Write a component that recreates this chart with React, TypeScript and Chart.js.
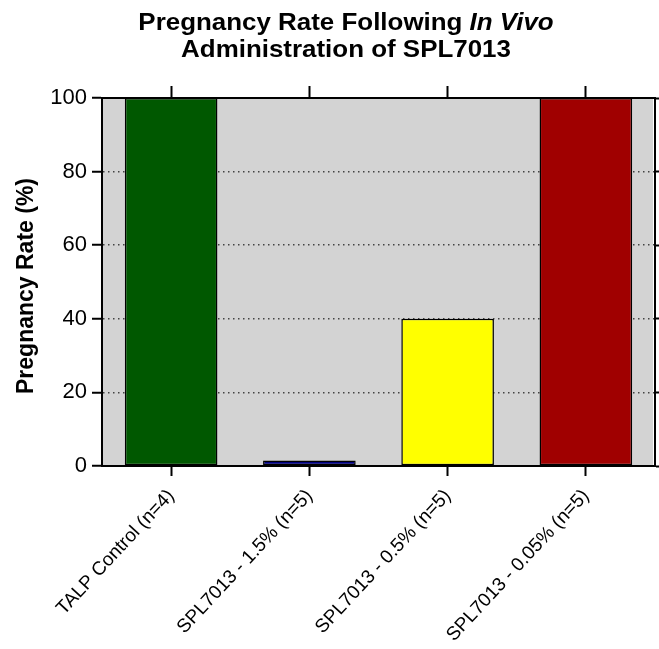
import React, { useEffect, useRef } from "react";
import { Chart, registerables } from "chart.js";

Chart.register(...registerables);

const categories = [
  "TALP Control (n=4)",
  "SPL7013 - 1.5% (n=5)",
  "SPL7013 - 0.5% (n=5)",
  "SPL7013 - 0.05% (n=5)",
];
const pregnancyRate = [100, 1.5, 40, 100];
const barColors = ["#005800", "#000080", "#FFFF00", "#A00000"];
const titleLine1 = "Pregnancy Rate Following ";
const titleItalic = "In Vivo";
const titleLine2 = "Administration of SPL7013";
const yAxisTitle = "Pregnancy Rate (%)";

const FONT = "'Liberation Sans', Arial, sans-serif";

const decorPlugin = {
  id: "decor",
  beforeDraw(chart: any) {
    const { ctx, chartArea } = chart;
    ctx.save();
    ctx.fillStyle = "#D3D3D3";
    ctx.fillRect(chartArea.left, chartArea.top, chartArea.right - chartArea.left - 2, chartArea.bottom - chartArea.top);
    ctx.restore();
  },
  afterDraw(chart: any) {
    const { ctx } = chart;
    ctx.save();
    ctx.fillStyle = "#000";
    ctx.textBaseline = "alphabetic";
    const cx = 346;
    const sx = 1.08;
    ctx.font = `bold 24px ${FONT}`;
    const w1 = ctx.measureText(titleLine1).width;
    ctx.font = `italic bold 24px ${FONT}`;
    const w2 = ctx.measureText(titleItalic).width;
    ctx.save();
    ctx.translate(cx, 0);
    ctx.scale(sx, 1);
    const start = -(w1 + w2) / 2;
    ctx.textAlign = "left";
    ctx.font = `bold 24px ${FONT}`;
    ctx.fillText(titleLine1, start, 30);
    ctx.font = `italic bold 24px ${FONT}`;
    ctx.fillText(titleItalic, start + w1, 30);
    ctx.font = `bold 24px ${FONT}`;
    ctx.textAlign = "center";
    ctx.fillText(titleLine2, 0, 57);
    ctx.restore();
    ctx.save();
    ctx.translate(33, 286);
    ctx.rotate(-Math.PI / 2);
    ctx.font = `bold 23px ${FONT}`;
    ctx.textAlign = "center";
    ctx.fillText(yAxisTitle, 0, 0);
    ctx.restore();
    ctx.restore();
  },
};

export default function App() {
  const ref = useRef<HTMLCanvasElement>(null);
  useEffect(() => {
    if (!ref.current) return;
    Chart.defaults.font.family = FONT;
    const chart = new Chart(ref.current, {
      type: "bar",
      data: {
        labels: categories,
        datasets: [
          {
            data: pregnancyRate,
            backgroundColor: barColors,
            borderColor: "#000",
            borderWidth: 1.5,
            borderSkipped: false,
            categoryPercentage: 1,
            barPercentage: 0.67,
          },
        ],
      },
      plugins: [decorPlugin],
      options: {
        responsive: false,
        animation: false,
        events: [],
        layout: { padding: 0 },
        plugins: { legend: { display: false }, tooltip: { enabled: false }, title: { display: false } },
        scales: {
          x: {
            type: "category",
            position: "bottom",
            offset: true,
            grid: { drawOnChartArea: false, offset: false, tickLength: 10, tickColor: "#000", tickWidth: 2 },
            border: { color: "#000", width: 2 },
            ticks: {
              autoSkip: false,
              minRotation: 47,
              maxRotation: 47,
              padding: 9,
              color: "#000",
              font: { size: 19, family: FONT },
            },
            afterFit: (s: any) => {
              s.height = 183;
            },
          },
          x2: {
            type: "category",
            position: "top",
            labels: categories,
            offset: true,
            grid: { drawOnChartArea: false, offset: false, tickLength: 12, tickColor: "#000", tickWidth: 2 },
            border: { color: "#000", width: 2 },
            ticks: { display: false },
            afterFit: (s: any) => {
              s.height = 98;
            },
          },
          y: {
            type: "linear",
            position: "left",
            min: 0,
            max: 100,
            grid: {
              color: (c: any) => (c.tick && (c.tick.value === 0 || c.tick.value === 100) ? "rgba(0,0,0,0)" : "#444"),
              lineWidth: 1.5,
              tickLength: 10,
              tickColor: "#000",
              tickWidth: 2,
              tickBorderDash: [],
            },
            border: { color: "#000", width: 2, dash: [1.5, 3.5] },
            ticks: { stepSize: 20, padding: 5, color: "#000", font: { size: 22, family: FONT } },
            afterFit: (s: any) => {
              s.width = 102;
            },
          },
          y2: {
            type: "linear",
            position: "right",
            min: 0,
            max: 100,
            grid: { drawOnChartArea: false, tickLength: 4, tickColor: "#000", tickWidth: 2 },
            border: { color: "#000", width: 2 },
            ticks: { display: false, stepSize: 20 },
            afterFit: (s: any) => {
              s.width = 4;
            },
          },
        },
      },
    } as any);
    return () => chart.destroy();
  }, []);
  return (
    <div style={{ position: "fixed", left: 0, top: 0, width: 659, height: 649, background: "#fff" }}>
      <canvas ref={ref} width={659} height={649} style={{ display: "block" }} />
    </div>
  );
}
